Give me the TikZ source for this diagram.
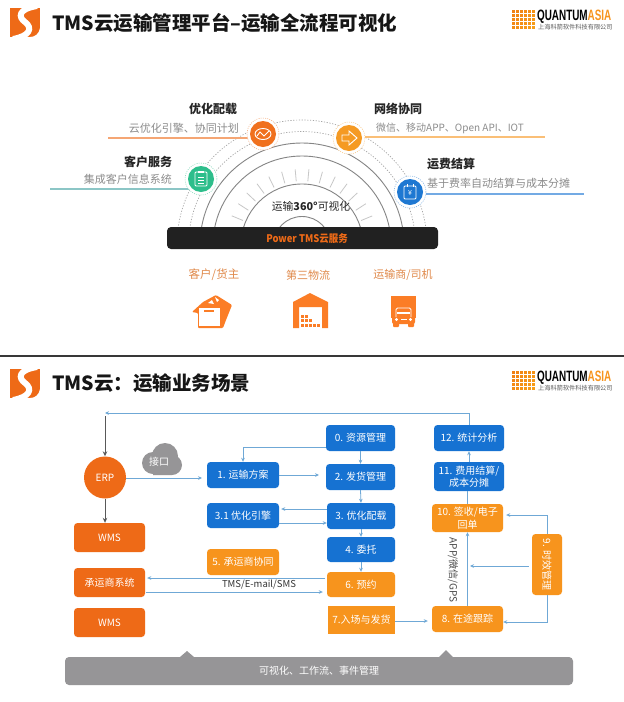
\documentclass[tikz,border=0pt]{standalone}
\usepackage{fontspec}
\setmainfont{Noto Sans CJK SC}
\newfontfamily\latinbold{Liberation Sans}
\usetikzlibrary{arrows.meta}
\definecolor{cBlue}{HTML}{1672D2}
\definecolor{cOr}{HTML}{F7941D}
\definecolor{cDk}{HTML}{EE6A17}
\definecolor{cGrey}{HTML}{969597}
\definecolor{cFlow}{HTML}{6FA8D6}
\definecolor{cIcon}{HTML}{FB7D26}
\definecolor{cHead}{HTML}{161616}
\definecolor{cRole}{HTML}{E0894A}
\newcommand\fs[1]{\fontsize{#1}{#1}\selectfont}
\tikzset{
  boxbase/.style={rounded corners=3.5pt,inner sep=0pt,text=white,font=\fontsize{10}{12.5}\selectfont,align=center},
  boxblue/.style={boxbase,fill=cBlue},
  boxor/.style={boxbase,fill=cOr},
  boxdk/.style={boxbase,fill=cDk},
  flow/.style={draw=cFlow,line width=.8pt,-{Stealth[length=4pt,width=3.6pt]}},
  flowplain/.style={draw=cFlow,line width=.8pt},
  greyflow/.style={draw=black!65,line width=1pt,-{Stealth[length=5pt,width=4.5pt]}},
  lbl/.style={inner sep=0pt},
  head/.style={lbl,font=\fs{12}\bfseries,text=black!85},
  sub/.style={lbl,font=\fs{11},text=black!45},
  role/.style={lbl,font=\fs{11.5},text=cRole},
  dots/.style={draw=black!35,line width=.7pt,dash pattern=on 1.2pt off 1.6pt},
  ring/.style={draw=black!48,line width=.9pt},
  iconline/.style={draw=white,line width=.9pt}
}
\newcommand\bx[7]{\node[#2,minimum width={(#5-#3)*1pt},minimum height={(#6-#4)*1pt}] (#1) at ({(#3+#5)/2},{(#4+#6)/2}) {#7};}
\newcommand\slogo[3]{%
  \begin{scope}[shift={(#1,#2)}]
    \clip (0,0) rectangle (30,29);
    \fill[cDk] (0,0) rectangle (30,29);
    \draw[white,line width=6pt] (27,-2) .. controls (8,1) and (8,9) .. (15,14) .. controls (23,20) and (20,28) .. (3,31);
    \fill[white] (30,20) .. controls (29,26) and (25,29) .. (20,29) -- (30,29) -- cycle;
  \end{scope}}
\newcommand\qlogo[2]{%
  \foreach \i in {0,...,5}{\foreach \j in {0,...,4}{
    \pgfmathsetmacro\mixv{100-(\i*10)-(\j*8)}
    \fill[cDk!\mixv!cOr!85!yellow] ({512+\i*4},{#1+\j*4.1}) rectangle ++(3.2,2.9);}}
  \node[lbl,anchor=west,xscale=.66,font=\fs{15}\latinbold\bfseries] (quant#2) at (537,{#1+7}) {QUANTUM\textcolor{cOr}{ASIA}};
  \node[lbl,anchor=west,font=\fs{6.2},text=black!65] (quantsub#2) at (538,{#1+17.5}) {上海科箭软件科技有限公司};}
\begin{document}
\begin{tikzpicture}[x=1pt,y=-1pt]
\useasboundingbox (0,0) rectangle (624,702);
\fill[white] (0,0) rectangle (624,702);
% headers
\slogo{10}{8}{a}
\slogo{10}{369}{b}
\qlogo{10}{a}
\qlogo{371}{b}
\node[lbl,anchor=west,font=\fs{19.5}\bfseries,text=cHead] (title1) at (52,23) {TMS云运输管理平台–运输全流程可视化};
\node[lbl,anchor=west,font=\fs{19.5}\bfseries,text=cHead] (title2) at (52,383) {TMS云：运输业务场景};
\fill[black!78] (0,355) rectangle (624,357);
% arcs
\def\cx{302}\def\cy{245}
\foreach \r in {125,113.5}{\draw[dots] ({\cx-\r},\cy) arc[start angle=180,end angle=0,radius=\r pt];}
\foreach \r in {102,89,61,28.5}{\draw[ring] ({\cx-\r},\cy) arc[start angle=180,end angle=0,radius=\r pt];}
\foreach \i in {0,...,13}{
  \pgfmathsetmacro\a{22.5+\i*10.38}
  \draw[black!22,line width=.8pt] ({\cx+64*cos(\a)},{\cy-64*sin(\a)}) -- ({\cx+76*cos(\a)},{\cy-76*sin(\a)});}
% spokes
\draw[draw=cDk!60,line width=1.2pt] (108,138) -- (250,138);
\draw[draw=teal!45,line width=1.5pt] (50,189) -- (190,189);
\draw[draw=cOr!60,line width=1.2pt] (362,137) -- (545,137);
\draw[draw=cBlue!60,line width=1.2pt] (420,194) -- (584,194);
% icon circles
\foreach \x/\y/\c in {263/134/F0701D,201/179/2DBE8B,349/138/F59A23,410/192/1E78D2}{
  \definecolor{tmpc}{HTML}{\c}
  \fill[white] (\x,\y) circle[radius=16pt];
  \draw[tmpc!60,line width=.5pt,dash pattern=on 1pt off 1.2pt] (\x,\y) circle[radius=16pt];
  \fill[tmpc] (\x,\y) circle[radius=13pt];}
% icon: chart
\draw[iconline] (263,134) ellipse[x radius=8pt,y radius=5.5pt];
\draw[iconline] (257,136) -- (260,132) -- (264,136) -- (269,131);
% icon: clipboard
\draw[iconline,rounded corners=1pt] (195,172) rectangle (207,186);
\fill[white] (198,171) rectangle (204,173);
\draw[iconline,line width=.7pt] (198,177) -- (204,177) (198,180) -- (204,180) (198,183) -- (204,183);
% icon: arrow
\draw[iconline] (342,135) -- (349,135) -- (349,131) -- (357,138) -- (349,145) -- (349,141) -- (342,141) -- cycle;
% icon: note
\draw[iconline,rounded corners=1pt] (404,186) rectangle (416,199);
\draw[iconline] (407,184) -- (407,187) (413,184) -- (413,187);
\node[lbl,font=\fs{7},text=white] (yen) at (410,193) {¥};
% black bar
\node[rounded corners=4pt,fill=black!87,minimum width=271pt,minimum height=22pt,inner sep=0pt] (bar) at (302.5,238) {};
\node[lbl,font=\fs{10.5}\bfseries,text=cDk,xscale=.9] (barText) at (307,239) {Power TMS云服务};
\node[lbl,font=\fs{10.8},text=black!85] (vis) at (311,206) {运输{\bfseries 360°}可视化};
% labels
\node[head] (h1) at (213,109) {优化配载};
\node[sub,anchor=east] (s1) at (239,128) {云优化引擎、协同计划};
\node[head] (h2) at (148,162) {客户服务};
\node[sub,anchor=east] (s2) at (172,179) {集成客户信息系统};
\node[head,anchor=west] (h3) at (374,109) {网络协同};
\node[sub,anchor=west,font=\fs{10}] (s3) at (376,128) {微信、移动APP、Open API、IOT};
\node[head,anchor=west] (h4) at (427,164) {运费结算};
\node[sub,anchor=west] (s4) at (427,183) {基于费率自动结算与成本分摊};
\node[role] (r1) at (214,275) {客户/货主};
\node[role,font=\fs{11}] (r2) at (308,275) {第三物流};
\node[role,font=\fs{11}] (r3) at (403,275) {运输商/司机};
% box icon
\fill[cIcon,rounded corners=1pt] (192,312) -- (203,302) -- (216,295) -- (232,305) -- (226,320) -- (223,328) -- (198,328) -- (198,313) -- cycle;
\fill[white] (199,308) rectangle (220,326);
\fill[cIcon] (204,309.5) rectangle (214,311.5);
\fill[white] (208,303) -- (212,300) -- (214,304) -- cycle;
\fill[white] (215,297) -- (219,300) -- (217,302) -- cycle;
% warehouse icon
\fill[cIcon] (293,302) -- (310,293) -- (328,302) -- (328,328) -- (322,328) -- (322,307) -- (299,307) -- (299,328) -- (293,328) -- cycle;
\foreach \x/\y in {301/315,305/315,301/319,305/319,309/319,301/323.5,305/323.5,309/323.5,313/323.5,317/323.5}{\fill[cIcon] (\x,\y) rectangle ++(3.2,3.4);}
% truck icon
\fill[cIcon] (391,296) rectangle (416,318);
\fill[cIcon,rounded corners=2pt] (392,312) rectangle (415,324);
\fill[cIcon,rounded corners=1pt] (393,322) rectangle (399,327);
\fill[cIcon,rounded corners=1pt] (408,322) rectangle (414,327);
\draw[white,line width=.9pt,rounded corners=1.5pt] (396,317) -- (396,308) -- (411,308) -- (411,317);
\fill[white] (397,312) -- (410,312) -- (410,314) -- (397,314) -- cycle;
\fill[white] (396.5,319.5) circle[radius=1.6pt] (410.5,319.5) circle[radius=1.6pt];
\fill[white] (400.5,319) rectangle (406.5,320);
% cloud
\fill[cGrey] (153,463) circle[radius=11pt] (165,456) circle[radius=13pt] (172,465) circle[radius=10pt] (153,464) rectangle (172,475);
\node[lbl,font=\fs{10},text=white] (cloudT) at (159,462) {接口};
% boxes
\node[circle,fill=cDk,minimum size=42pt,inner sep=0pt,text=white,font=\fs{10}] (erp) at (105,477.5) {ERP};
\bx{wmsA}{boxdk}{74}{523}{145}{552}{WMS}
\bx{carrier}{boxdk}{74}{568}{145}{597}{承运商系统}
\bx{wmsB}{boxdk}{74}{608}{145}{637}{WMS}
\bx{b1}{boxblue}{207}{462}{279}{488}{1. 运输方案}
\bx{b31}{boxblue}{207}{503}{279}{528}{3.1 优化引擎}
\bx{b5}{boxor}{207}{549}{279}{575}{5. 承运商协同}
\bx{b0}{boxblue}{326}{425}{395}{451}{0. 资源管理}
\bx{b2}{boxblue}{326}{464}{395}{490}{2. 发货管理}
\bx{b3}{boxblue}{327}{503}{395}{529}{3. 优化配载}
\bx{b4}{boxblue}{327}{537}{395}{562}{4. 委托}
\bx{b6}{boxor}{327}{572}{395}{597}{6. 预约}
\bx{b7}{boxor,rounded corners=0pt}{328}{606}{395}{634}{7.入场与发货}
\bx{b8}{boxor}{432}{606}{503}{632}{8. 在途跟踪}
\bx{b10}{boxor}{432}{504}{503}{532}{10. 签收/电子\\回单}
\bx{b11}{boxblue}{434}{462}{504}{491}{11. 费用结算/\\成本分摊}
\bx{b12}{boxblue}{434}{425}{504}{451}{12. 统计分析}
\bx{b9}{boxor}{532}{534}{562}{595}{}
\node[lbl,rotate=-90,font=\fs{10},text=white] (b9t) at (b9) {9. 时效管理};
\bx{plat}{boxbase,fill=cGrey,rounded corners=4pt}{65}{657}{573}{685}{可视化、工作流、事件管理}
% triangles
\coordinate (triA) at (187,651);
\coordinate (triB) at (446,650);
\fill[cGrey] (180,657) -- (triA) -- (194,657) -- cycle;
\fill[cGrey] (439,657) -- (triB) -- (453,657) -- cycle;
% free ends
\coordinate (topL) at (105,413);
\coordinate (topD) at (105,416);
\coordinate (erpIn) at (202,478);
\coordinate (b2In) at (319,475);
\coordinate (midIn) at (470,566);
% connectors
\draw[flow] (b12.north) -- (b12.north |- topL) -- (topL);
\draw[greyflow] (topD) -- (erp.north);
\draw[greyflow] (erp.south) -- (erp.south |- wmsA.north);
\draw[flow] (erp.east |- erpIn) -- (erpIn);
\draw[flow] ([yshift=-9pt]b0.west) -| (b1.north);
\draw[flow] (b1.east) -- (b2In);
\draw[flow] (b0.south) -- (b2.north);
\draw[flow] (b2.south) -- (b3.north);
\draw[flow] ([yshift=7pt]b3.west) -- ([xshift=2pt,yshift=6.5pt]b31.east);
\draw[flow] ([yshift=-7.5pt]b31.east) -- ([yshift=-7pt]b3.west);
\draw[flow] (b3.south) -- (b4.north);
\draw[flow] (b4.south) -- (b6.north);
\draw[flow] ([xshift=-2pt,yshift=6.5pt]b6.west) -- ([xshift=2pt,yshift=4.5pt]carrier.east);
\draw[flow] ([xshift=1pt,yshift=-9.5pt]carrier.east) -- ([xshift=-4pt,yshift=-9.5pt]carrier.east -| b6.west);
\node[lbl,font=\fs{9.5},text=black!80] (tms) at (259,585) {TMS/E-mail/SMS};
\draw[flow] ([yshift=-1pt]b7.east) -- ([xshift=-4pt,yshift=-2pt]b8.west);
\draw[flow] (b8.north) -- (b10.south);
\draw[flowplain] (b10.north) -- (b10.north |- b11.south);
\draw[flow] (b11.north) -- (b12.south);
\draw[flow] ([xshift=-3pt,yshift=-1.5pt]b9.west) -- (midIn);
\draw[flow] (b9.north) |- ([xshift=3pt,yshift=3pt]b10.east);
\draw[flow] (b9.south) |- ([yshift=-3pt]b8.east);
\node[lbl,rotate=-90,font=\fs{10},text=black!70] (appT) at (453,570) {APP/微信/GPS};
\end{tikzpicture}
\end{document}
